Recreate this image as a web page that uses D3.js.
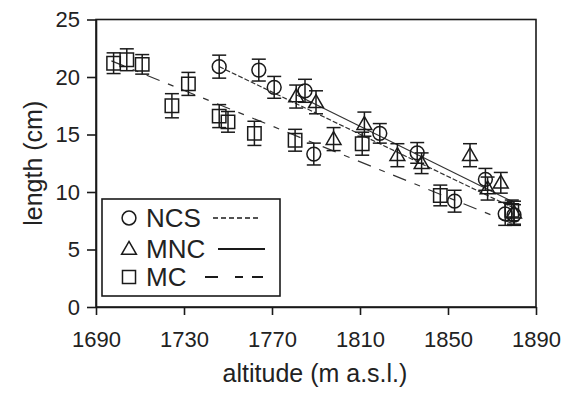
<!DOCTYPE html>
<html>
<head>
<meta charset="utf-8">
<script src="https://cdn.jsdelivr.net/npm/d3@7"></script>
<style>
  body { margin: 0; background: #fff; }
  text { font-family: "Liberation Sans", Arial, sans-serif; fill: #222; }
</style>
</head>
<body>
<div id="chart"></div>
<script>
// data
var ncsAlt = [1746, 1764, 1771, 1785, 1789, 1819, 1836, 1853, 1867, 1876, 1880];
var ncsLen = [20.9, 20.6, 19.1, 18.8, 13.3, 15.1, 13.4, 9.2, 11.1, 8.1, 8.0];
var ncsErr = [1.0, 0.95, 0.95, 1.0, 0.95, 0.85, 0.9, 0.95, 0.95, 1.0, 0.9];

var mncAlt = [1781, 1790, 1798, 1812, 1827, 1838, 1860, 1868, 1874, 1880];
var mncLen = [18.3, 17.8, 14.6, 15.9, 13.2, 12.5, 13.2, 10.3, 10.8, 8.2];
var mncErr = [1.0, 1.0, 1.0, 1.05, 1.0, 0.9, 1.0, 1.0, 0.9, 1.0];

var mcAlt = [1698, 1704, 1711, 1724.5, 1732, 1746, 1750, 1762, 1780.5, 1811, 1846.5, 1879];
var mcLen = [21.2, 21.5, 21.1, 17.5, 19.4, 16.6, 16.1, 15.1, 14.5, 14.2, 9.7, 8.4];
var mcErr = [0.9, 0.95, 0.85, 1.05, 1.0, 1.0, 0.9, 1.05, 0.95, 1.0, 0.9, 0.9];

// fitted lines (start / end)
var ncsFit = [[1746, 20.9], [1881, 8.5]];
var mncFit = [[1781, 18.45], [1880, 9.1]];
var mcFit = [[1697, 21.4], [1880, 7.2]];

var xTicks = [1690, 1730, 1770, 1810, 1850, 1890];
var yTicks = [0, 5, 10, 15, 20, 25];

var svgWidth = 567;
var svgHeight = 393;

var margin = { top: 19.5, right: 31, bottom: 86, left: 96 };
var width = svgWidth - margin.left - margin.right;
var height = svgHeight - margin.top - margin.bottom;

var svg = d3.select("#chart")
  .append("svg")
  .attr("width", svgWidth)
  .attr("height", svgHeight);

var chartGroup = svg.append("g")
  .attr("transform", `translate(${margin.left}, ${margin.top})`);

var xScale = d3.scaleLinear().domain([1690, 1890]).range([0, width]);
var yScale = d3.scaleLinear().domain([0, 25]).range([height, 0]);

var ink = "#1a1a1a";

// axes
var bottomAxis = d3.axisBottom(xScale).tickValues(xTicks).tickFormat(d3.format("d"))
  .tickSize(8).tickSizeOuter(0).tickPadding(16);
var leftAxis = d3.axisLeft(yScale).tickValues(yTicks)
  .tickSize(9).tickSizeOuter(0).tickPadding(7);

var gx = chartGroup.append("g")
  .attr("transform", `translate(0, ${height})`)
  .call(bottomAxis);
var gy = chartGroup.append("g").call(leftAxis);

[gx, gy].forEach(function(g) {
  g.selectAll("path, line").attr("stroke", ink).attr("stroke-width", 1.6);
  g.selectAll("text").attr("font-size", "22px").attr("fill", "#222")
    .attr("font-family", "'Liberation Sans', Arial, sans-serif");
});

// frame
chartGroup.append("rect")
  .attr("width", width)
  .attr("height", height)
  .attr("fill", "none")
  .attr("stroke", ink)
  .attr("stroke-width", 1.6);

// fitted lines
var line = d3.line().x(d => xScale(d[0])).y(d => yScale(d[1]));
var fits = [
  { pts: ncsFit, dash: "5,2" },
  { pts: mncFit, dash: null },
  { pts: mcFit, dash: "14,9,6,9" }
];
fits.forEach(function(f) {
  chartGroup.append("path")
    .attr("d", line(f.pts))
    .attr("fill", "none")
    .attr("stroke", "#333")
    .attr("stroke-width", 1.2)
    .attr("stroke-dasharray", f.dash);
});

// points with error bars
function zip(alt, len, err) {
  return alt.map((a, i) => ({ alt: a, len: len[i], err: err[i] }));
}

var sym = {
  circle: d3.symbol().type(d3.symbolCircle).size(150),
  triangle: d3.symbol().type(d3.symbolTriangle).size(95),
  square: d3.symbol().type(d3.symbolSquare).size(180)
};

var series = [
  { data: zip(mcAlt, mcLen, mcErr), shape: "square" },
  { data: zip(mncAlt, mncLen, mncErr), shape: "triangle" },
  { data: zip(ncsAlt, ncsLen, ncsErr), shape: "circle" }
];

var capW = 7;
series.forEach(function(s) {
  var g = chartGroup.append("g");
  var pts = g.selectAll("g.pt").data(s.data).enter().append("g")
    .attr("class", "pt")
    .attr("transform", d => `translate(${xScale(d.alt)}, 0)`);

  pts.append("line")
    .attr("y1", d => yScale(d.len + d.err))
    .attr("y2", d => yScale(d.len - d.err))
    .attr("stroke", ink).attr("stroke-width", 1.5);
  pts.append("line")
    .attr("x1", -capW).attr("x2", capW)
    .attr("y1", d => yScale(d.len + d.err))
    .attr("y2", d => yScale(d.len + d.err))
    .attr("stroke", ink).attr("stroke-width", 1.5);
  pts.append("line")
    .attr("x1", -capW).attr("x2", capW)
    .attr("y1", d => yScale(d.len - d.err))
    .attr("y2", d => yScale(d.len - d.err))
    .attr("stroke", ink).attr("stroke-width", 1.5);
  pts.append("path")
    .attr("d", sym[s.shape])
    .attr("transform", d => `translate(0, ${yScale(d.len) + (s.shape === "triangle" ? 1 : 0)})`)
    .attr("fill", "none")
    .attr("stroke", ink)
    .attr("stroke-width", 1.5);
});

// legend
var legend = svg.append("g");
legend.append("rect")
  .attr("x", 102).attr("y", 199)
  .attr("width", 178).attr("height", 97)
  .attr("fill", "#fff")
  .attr("stroke", ink)
  .attr("stroke-width", 1.6);

var legendRows = [
  { label: "NCS", shape: "circle", y: 218, x1: 213, x2: 258, dash: "5,3", w: 1.6 },
  { label: "MNC", shape: "triangle", y: 249, x1: 218, x2: 265, dash: null, w: 1.8 },
  { label: "MC", shape: "square", y: 277, x1: 205, x2: 263, dash: "13,17,8,9,13", w: 1.8 }
];
legendRows.forEach(function(r) {
  legend.append("path")
    .attr("d", d3.symbol().type(r.shape === "circle" ? d3.symbolCircle :
      r.shape === "triangle" ? d3.symbolTriangle : d3.symbolSquare)
      .size(r.shape === "circle" ? 150 : r.shape === "triangle" ? 95 : 170))
    .attr("transform", `translate(129, ${r.y + (r.shape === "triangle" ? 1 : 0)})`)
    .attr("fill", "none")
    .attr("stroke", ink)
    .attr("stroke-width", 1.5);
  legend.append("text")
    .attr("x", 146)
    .attr("y", r.y + 9)
    .attr("font-size", "26px")
    .text(r.label);
  legend.append("line")
    .attr("x1", r.x1).attr("x2", r.x2)
    .attr("y1", r.y).attr("y2", r.y)
    .attr("stroke", ink)
    .attr("stroke-width", r.w)
    .attr("stroke-dasharray", r.dash);
});

// axis labels
svg.append("text")
  .attr("transform", `translate(${margin.left + width / 2 - 1}, 382)`)
  .attr("text-anchor", "middle")
  .attr("font-size", "25px")
  .text("altitude (m a.s.l.)");

svg.append("text")
  .attr("transform", `translate(42, ${margin.top + height / 2}) rotate(-90)`)
  .attr("text-anchor", "middle")
  .attr("font-size", "25px")
  .text("length (cm)");
</script>
</body>
</html>
